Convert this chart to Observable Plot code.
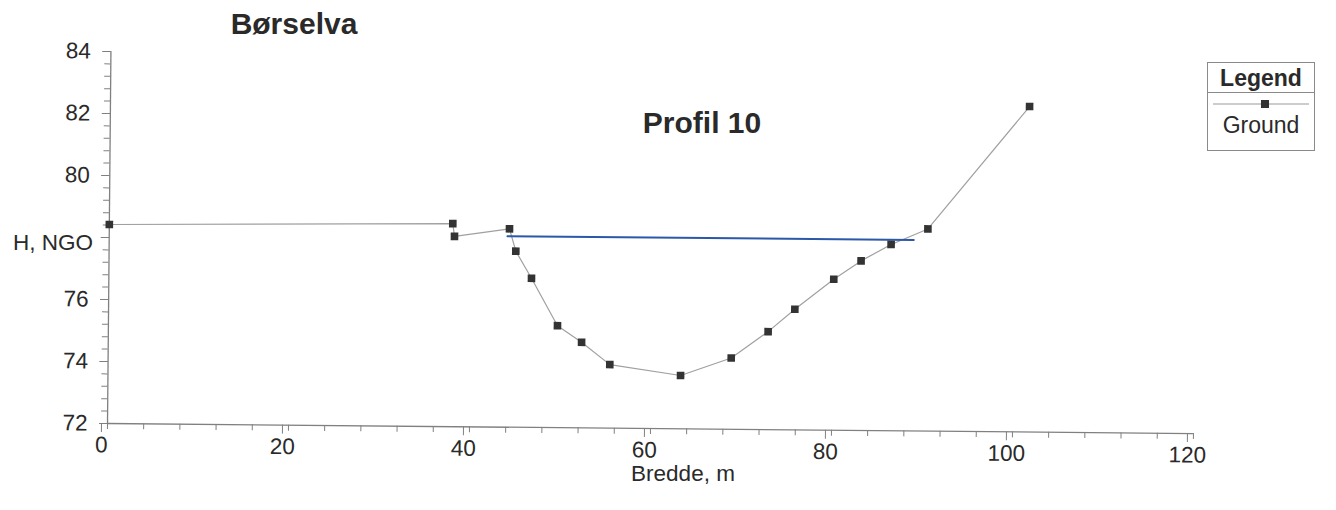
<!DOCTYPE html>
<html>
<head>
<meta charset="utf-8">
<script src="https://cdn.jsdelivr.net/npm/d3@7"></script>
<script src="https://cdn.jsdelivr.net/npm/@observablehq/plot@0.6"></script>
<style>
  html, body { margin: 0; padding: 0; background: #fff; }
  #wrap { position: relative; width: 1336px; height: 510px; overflow: hidden; font-family: "Liberation Sans", Arial, Helvetica, sans-serif; color: #2a2a2a; }
  #chart { position: absolute; left: 0; top: 0; }
  /* the reference is a scan turned by about half a degree */
  #chart svg { transform: rotate(0.53deg); transform-origin: 107px 423px; }
  .ttl { position: absolute; font-weight: bold; font-size: 30px; white-space: nowrap; transform: translate(-50%, -50%); }
  .lbl { position: absolute; font-size: 22.5px; line-height: 1; white-space: nowrap; }
  #legend { position: absolute; left: 1207px; top: 62px; width: 108px; height: 89px; border: 1px solid #8a8a8a; box-sizing: border-box; background: #fff; }
  #legend .hd { height: 30px; border-bottom: 1px solid #8a8a8a; font-weight: bold; font-size: 23px; text-align: center; line-height: 30px; box-sizing: border-box; }
  #legend .sw { display: block; margin: 5px auto 0 auto; }
  #legend .nm { font-size: 23px; text-align: center; line-height: 30px; }
</style>
</head>
<body>
<div id="wrap">
  <div id="chart"></div>
  <div class="ttl" id="title" style="left:294px; top:24px;">Børselva</div>
  <div class="ttl" id="subtitle" style="left:702px; top:123px;">Profil 10</div>
  <div class="lbl" id="ylabel" style="right:1243px; top:232px;">H, NGO</div>
  <div class="lbl" id="xlabel" style="left:683px; top:463px; transform: translateX(-50%);">Bredde, m</div>
  <div id="legend">
    <div class="hd">Legend</div>
    <svg class="sw" width="96" height="12"><line x1="0" y1="6" x2="96" y2="6" stroke="#999" stroke-width="1"/><rect x="48" y="2" width="8" height="8" fill="#333"/></svg>
    <div class="nm">Ground</div>
  </div>
</div>
<script>
// Ground profile (Bredde, m ; H, NGO)
const groundX = [0, 37.95, 38.15, 44.22, 44.94, 46.7, 49.62, 52.3, 55.44, 63.27, 68.85, 72.9, 75.83, 80.1, 83.1, 86.4, 90.45, 101.56];
const groundY = [78.42, 78.55, 78.14, 78.40, 77.68, 76.81, 75.29, 74.76, 74.05, 73.72, 74.30, 75.16, 75.89, 76.87, 77.47, 78.01, 78.52, 82.50];
// Water surface line
const waterX = [44.0, 88.9];
const waterY = [78.16, 78.16];
// Axis ticks
const xMajorTicks = [0, 20, 40, 60, 80, 100, 120];
const xMinorTicks = d3.range(0, 120.001, 4);
const yMajorTicks = [72, 74, 76, 78, 80, 82, 84];
const yLabelTicks = [72, 74, 76, 80, 82, 84];
const yMinorTicks = d3.range(72, 84.001, 0.4);

const ground = groundX.map((x, i) => ({x, y: groundY[i]}));
const water = waterX.map((x, i) => ({x, y: waterY[i]}));

const axisColor = "#808080";
const textColor = "#2a2a2a";
const plot = Plot.plot({
  width: 1336,
  height: 510,
  marginLeft: 107,
  marginRight: 143,
  marginTop: 51,
  marginBottom: 87,
  style: {fontFamily: "'Liberation Sans', Arial, Helvetica, sans-serif", fontSize: "22.5px", color: textColor, background: "transparent", overflow: "visible"},
  x: {domain: [0, 120]},
  y: {domain: [72, 84]},
  marks: [
    Plot.axisX(xMinorTicks, {tickSize: 6, text: null, label: null, stroke: axisColor}),
    Plot.axisX(xMajorTicks, {tickSize: 9, tickPadding: 4, dx: -6, label: null, stroke: axisColor, fill: textColor}),
    Plot.axisY(yMinorTicks, {tickSize: 6, text: null, label: null, stroke: axisColor}),
    Plot.axisY(yMajorTicks, {tickSize: 8, text: null, label: null, stroke: axisColor}),
    Plot.axisY(yLabelTicks, {tickSize: 8, tickPadding: 12, label: null, stroke: axisColor, fill: textColor}),
    Plot.ruleY([72], {stroke: axisColor, strokeWidth: 1.3}),
    Plot.ruleX([0], {stroke: axisColor, strokeWidth: 1.3}),
    Plot.line(ground, {x: "x", y: "y", stroke: "#a0a0a0", strokeWidth: 1.2}),
    Plot.line(water, {x: "x", y: "y", stroke: "#2b58a8", strokeWidth: 2}),
    Plot.dot(ground, {x: "x", y: "y", symbol: "square", r: 4.3, fill: "#333", stroke: "none"})
  ]
});
document.getElementById("chart").appendChild(plot);
</script>
</body>
</html>
